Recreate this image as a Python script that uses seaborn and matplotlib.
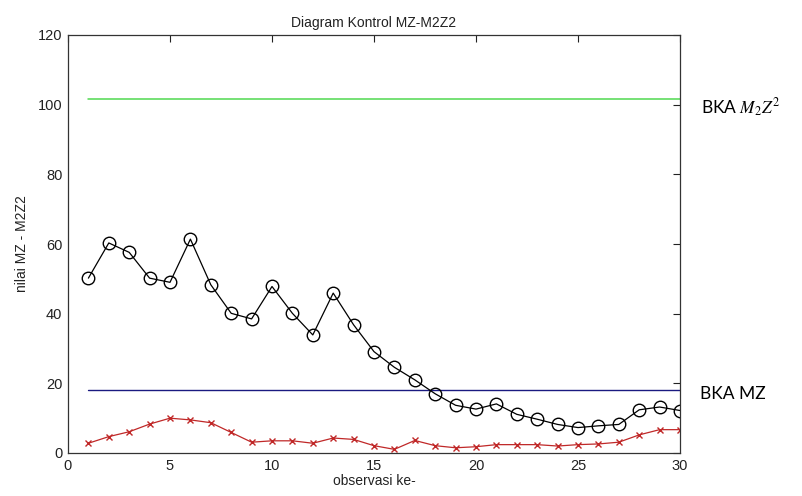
import matplotlib
matplotlib.use("Agg")
import matplotlib.pyplot as plt
import seaborn as sns
import numpy as np
import pandas as pd

# Data
observasi = list(range(1, 31))
m2z2 = [50.2, 60.3, 57.6, 50.2, 49.0, 61.4, 48.3, 40.1, 38.5, 47.8,
        40.1, 33.9, 45.9, 36.8, 29.1, 24.6, 21.0, 17.0, 13.7, 12.6,
        14.1, 11.1, 9.7, 8.2, 7.3, 7.8, 8.2, 12.4, 13.2, 12.2]
mz = [2.8, 4.7, 6.1, 8.3, 10.0, 9.5, 8.7, 5.9, 3.1, 3.5,
      3.5, 2.8, 4.3, 3.9, 2.1, 1.05, 3.6, 2.1, 1.5, 1.8,
      2.4, 2.4, 2.4, 2.0, 2.4, 2.6, 3.1, 5.2, 6.7, 6.7]
bka_m2z2 = 101.7
bka_mz = 18.1
limit_x = [1, 30]

title = "Diagram Kontrol MZ-M2Z2"
xlabel = "observasi ke-"
ylabel = "nilai MZ - M2Z2"
xticks = [0, 5, 10, 15, 20, 25, 30]
yticks = [0, 20, 40, 60, 80, 100, 120]

sns.set_style("white")
plt.rcParams['font.family'] = ['Liberation Sans', 'DejaVu Sans']
plt.rcParams['mathtext.fontset'] = 'stix'

fig = plt.figure(figsize=(8.03, 4.96), dpi=100)
ax = fig.add_axes([68/803, 43/496, 612/803, 418/496])

df = pd.DataFrame({"obs": observasi, "m2z2": m2z2, "mz": mz})

sns.lineplot(x=limit_x, y=[bka_m2z2, bka_m2z2], ax=ax, color="#4fd84f", linewidth=1.1)
sns.lineplot(x=limit_x, y=[bka_mz, bka_mz], ax=ax, color="#1a1a80", linewidth=1.0)
sns.lineplot(data=df, x="obs", y="m2z2", ax=ax, color="black", linewidth=0.9,
             marker="o", markersize=9, markerfacecolor="none",
             markeredgecolor="black", markeredgewidth=1.0)
sns.lineplot(data=df, x="obs", y="mz", ax=ax, color="#c02828", linewidth=0.9,
             marker="x", markersize=4.5, markeredgecolor="#c02828",
             markeredgewidth=1.0)

ax.set_xlim(0, 30)
ax.set_ylim(0, 120)
ax.set_xticks(xticks)
ax.set_yticks(yticks)
ax.tick_params(direction="in", top=True, right=True, length=5, width=0.8,
               labelsize=10.5, colors="#222222", pad=4)
for s in ax.spines.values():
    s.set_color("#333333")
    s.set_linewidth(0.9)
    s.set_visible(True)

ax.set_title(title, fontsize=10, pad=6, color="#222222")
ax.set_xlabel(xlabel, fontsize=10, labelpad=1, color="#222222")
ax.set_ylabel(ylabel, fontsize=10, labelpad=6, color="#222222")

fig.text(701/803, 1 - 108/496, r"BKA $M_2Z^2$", fontsize=12.5, color="black",
         family=["Lato", "DejaVu Sans"], va="center", ha="left")
fig.text(700/803, 1 - 394/496, "BKA MZ", fontsize=12.5, color="black",
         family=["Lato", "DejaVu Sans"], va="center", ha="left")

fig.savefig("out.png", dpi=100, facecolor="white")
